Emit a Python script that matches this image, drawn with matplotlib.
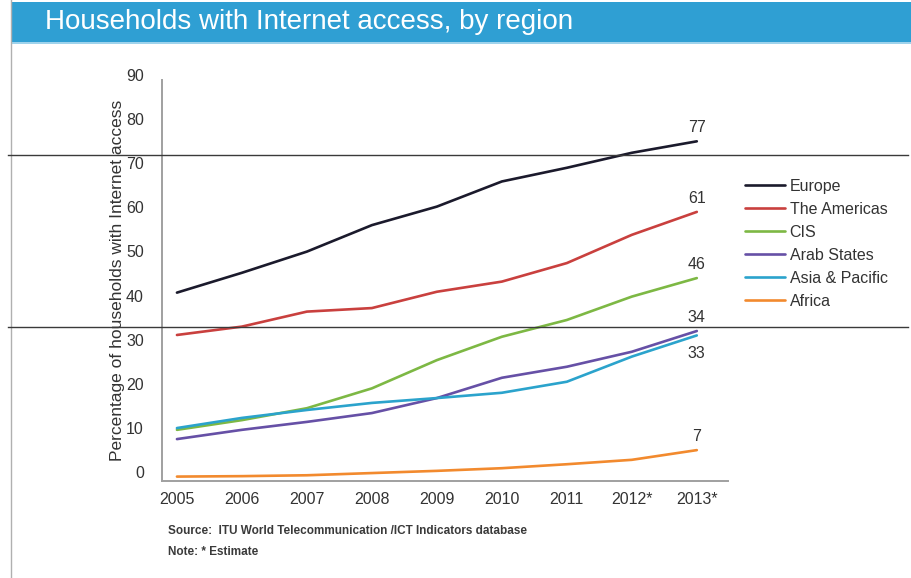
import matplotlib
matplotlib.use('Agg')
import matplotlib.pyplot as plt
import matplotlib.transforms as mtransforms
from matplotlib.patches import Rectangle
from matplotlib.lines import Line2D

# household internet access, % by region
years = ['2005', '2006', '2007', '2008', '2009', '2010', '2011', '2012*', '2013*']
europe = [42.7, 47.2, 52.0, 58.0, 62.2, 67.9, 71.0, 74.4, 77]
americas = [33.1, 35.0, 38.4, 39.2, 42.9, 45.2, 49.4, 55.8, 61]
cis = [11.6, 13.8, 16.5, 21.0, 27.4, 32.7, 36.5, 41.8, 46]
arab_states = [9.5, 11.6, 13.4, 15.4, 18.8, 23.4, 25.9, 29.3, 34]
asia_pacific = [12.0, 14.3, 16.1, 17.7, 18.8, 20.0, 22.5, 28.2, 33]
africa = [1.0, 1.1, 1.3, 1.8, 2.3, 2.9, 3.8, 4.8, 7]

regions = ['Europe', 'The Americas', 'CIS', 'Arab States', 'Asia & Pacific', 'Africa']
series = [europe, americas, cis, arab_states, asia_pacific, africa]
colors = ['#1b1a2c', '#c9403e', '#7db844', '#6650a6', '#2ba3cc', '#f28a2e']
end_offsets = [10, 10, 10, 10, -13, 10]

plt.rcParams['font.family'] = ['Liberation Sans', 'DejaVu Sans']

fig = plt.figure(figsize=(9.12, 5.78), dpi=100)
fig.patch.set_facecolor('white')

# header band
fig.patches.append(Rectangle((11/912, 1 - 42/578), 1, 40/578, transform=fig.transFigure,
                             facecolor='#2f9fd3', edgecolor='none', zorder=0))
fig.patches.append(Rectangle((11/912, 1 - 44/578), 1, 2/578, transform=fig.transFigure,
                             facecolor='#9fd3ec', edgecolor='none', zorder=0))
fig.text(45/912, 1 - 22/578, 'Households with Internet access, by region', color='white',
         fontsize=20, va='center', ha='left')

ax = fig.add_axes([162/912, 1 - 481/578, 566/912, 401/578])
x = list(range(len(years)))
for name, vals, c in zip(regions, series, colors):
    ax.plot(x, vals, color=c, lw=1.9, label=name, solid_capstyle='round')

for vals, c, off in zip(series, colors, end_offsets):
    ax.annotate(f'{vals[-1]:g}', (x[-1], vals[-1]), xytext=(0, off), textcoords='offset points',
                ha='center', va='center', fontsize=11.5, color='#333333')

ax.set_xlim(-0.23, 8.48)
ax.set_ylim(0, 90.9)
ax.set_xticks(x)
ax.set_xticklabels(years)
ax.set_yticks(range(0, 91, 10))
ax.tick_params(length=0, labelsize=11.5, colors='#333333')
ax.tick_params(axis='y', pad=13)
ax.tick_params(axis='x', pad=8)
for lab in ax.get_yticklabels():
    lab.set_transform(lab.get_transform() + mtransforms.ScaledTranslation(0, 0.09, fig.dpi_scale_trans))

for s in ['top', 'right']:
    ax.spines[s].set_visible(False)
for s in ['left', 'bottom']:
    ax.spines[s].set_color('#a0a0a0')
    ax.spines[s].set_linewidth(1.4)

ax.set_ylabel('Percentage of households with Internet access', fontsize=12.5, color='#333333', labelpad=1)

ax.legend(loc='upper left', bbox_to_anchor=(745/912, 1 - 179/578), bbox_transform=fig.transFigure,
          frameon=False, fontsize=11.5, handlelength=2.5, handletextpad=0.3, labelspacing=0.5,
          borderpad=0, borderaxespad=0, labelcolor='#333333')

fig.text(168/912, 1 - 531/578, 'Source:  ITU World Telecommunication /ICT Indicators database',
         fontweight='bold', fontsize=8.5, color='#3a3a3a', va='center')
fig.text(168/912, 1 - 552/578, 'Note: * Estimate', fontweight='bold', fontsize=8.5,
         color='#3a3a3a', va='center')

# frame lines
fig.add_artist(Line2D([11/912, 11/912], [0, 1], transform=fig.transFigure, color='#b0b0b0', lw=1))
for yy in [155, 327]:
    fig.add_artist(Line2D([8/912, 908/912], [1 - yy/578] * 2, transform=fig.transFigure,
                          color='#3a3a3a', lw=1))

fig.savefig('out.png', dpi=100)
